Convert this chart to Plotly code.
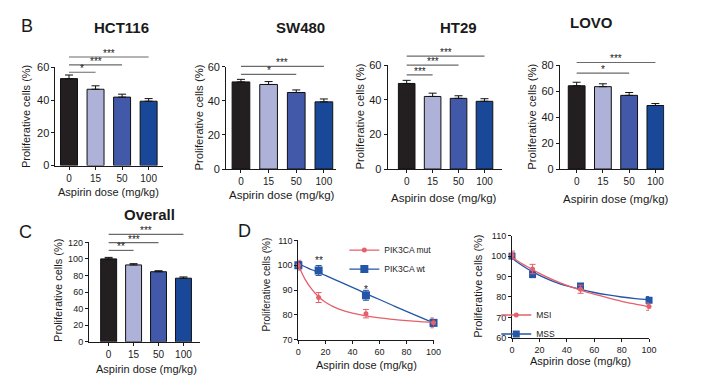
import plotly.graph_objects as go

W, H = 711, 384

# ---------------- data ----------------
doses = ["0", "15", "50", "100"]

hct116_vals = [53.1, 46.6, 41.8, 39.3]
hct116_err = [2.2, 2.1, 1.8, 1.6]
sw480_vals = [51.1, 49.6, 44.9, 39.4]
sw480_err = [1.5, 1.7, 1.5, 1.7]
ht29_vals = [49.4, 41.9, 40.8, 39.1]
ht29_err = [1.8, 1.9, 1.5, 1.5]
lovo_vals = [64.1, 63.4, 56.7, 48.9]
lovo_err = [2.7, 2.2, 2.2, 1.5]
overall_vals = [100.1, 92.8, 84.6, 76.8]
overall_err = [1.8, 1.5, 1.2, 1.5]

# significance comparisons (bar i vs bar j, label)
hct116_sig = [(0, 1, "*"), (0, 2, "***"), (0, 3, "***")]
sw480_sig = [(0, 2, "*"), (0, 3, "***")]
ht29_sig = [(0, 1, "***"), (0, 2, "***"), (0, 3, "***")]
lovo_sig = [(0, 2, "*"), (0, 3, "***")]
overall_sig = [(0, 1, "**"), (0, 2, "***"), (0, 3, "***")]

d_doses = [0, 15, 50, 100]
mut_vals = [100.0, 87.0, 80.5, 76.8]
mut_err = [2.0, 2.0, 1.7, 2.0]
wt_vals = [100.0, 97.9, 87.9, 76.8]
wt_err = [1.5, 2.0, 2.0, 1.5]
pik_sig = [(15, "**"), (50, "*")]

fit_x = [0, 5, 10, 15, 20, 30, 40, 50, 60, 70, 80, 90, 100]
mut_fit = [100.0, 94.3, 90.3, 87.3, 85.1, 82.3, 80.7, 79.6, 78.8, 78.2, 77.7, 77.3, 77.0]
wt_fit = [100.6, 99.4, 98.2, 97.1, 95.9, 93.5, 91.1, 88.6, 86.2, 83.8, 81.4, 79.1, 76.8]

msi_vals = [100.5, 93.7, 83.8, 75.3]
msi_err = [2.0, 2.3, 2.0, 1.8]
mss_vals = [100.0, 91.0, 85.4, 78.4]
mss_err = [1.5, 1.5, 1.2, 1.8]
msi_fit = [99.6, 97.3, 95.3, 93.4, 91.6, 88.4, 85.7, 83.4, 81.4, 79.6, 77.9, 76.5, 75.2]
mss_fit = [99.0, 96.5, 94.3, 92.4, 90.6, 87.7, 85.4, 83.7, 82.2, 81.0, 80.0, 79.2, 78.6]

# ---------------- styles ----------------
FONT = "Arial, Liberation Sans, sans-serif"
INK = "#1a1a1a"
bar_colors = ["#231f20", "#aeb1d8", "#4159a8", "#1a4898"]
RED = "#e5606a"
BLUE = "#2356a6"
BRACKET = "#6a6a6a"


def xd(a, b):
    return [a / W, b / W]


def yd(bottom, top):
    return [1 - bottom / H, 1 - top / H]


fig = go.Figure()

bar_panels = [
    ("", hct116_vals, hct116_err, hct116_sig, (53.3, 163), (164.7, 63.3), [-0.51, 3.56], 60, 20, [57.0, 61.5, 66.3], 11, 10),
    ("2", sw480_vals, sw480_err, sw480_sig, (226.7, 338), (168.3, 62.7), [-0.534, 3.43], 60, 20, [55.5, 60.2], 11, 10),
    ("3", ht29_vals, ht29_err, ht29_sig, (390.7, 506.7), (168.3, 61), [-0.734, 3.67], 60, 20, [54.4, 60.0, 65.2], 11, 10),
    ("4", lovo_vals, lovo_err, lovo_sig, (565.7, 671.7), (168.3, 61), [-0.637, 3.34], 80, 20, [73.8, 82.0], 11, 10),
    ("5", overall_vals, overall_err, overall_sig, (87.3, 200), (346.7, 244), [-0.79, 3.66], 120, 20, [110.3, 119.6, 129.7], 9, 10),
]

axis_common = dict(showline=True, linecolor=INK, linewidth=1, ticks="outside", ticklen=3,
                   tickwidth=1, tickcolor=INK, showgrid=False, zeroline=False, fixedrange=True)

shapes = []
annotations = []

for suf, vals, err, sig, xdom, ydom, xr, ymax, dt, heights, yfs, xfs in bar_panels:
    xa = "x" + suf
    ya = "y" + suf
    pos = list(range(len(doses)))
    fig.add_trace(go.Bar(
        x=pos, y=vals, width=0.64,
        marker=dict(color=bar_colors, line=dict(color="#111111", width=1)),
        error_y=dict(type="data", array=err, arrayminus=[0] * len(err), symmetric=False,
                     color="#111111", thickness=1, width=4),
        xaxis=xa, yaxis=ya, showlegend=False, hoverinfo="skip"))
    fig.layout["xaxis" + suf] = dict(axis_common, domain=xd(*xdom), range=xr, anchor=ya,
                                     tickvals=pos, ticktext=doses, tickfont=dict(size=xfs))
    fig.layout["yaxis" + suf] = dict(axis_common, domain=yd(*ydom), range=[0, ymax], anchor=xa,
                                     tickvals=list(range(0, ymax + 1, dt)), tickfont=dict(size=yfs))
    for (i, j, lab), h in zip(sig, heights):
        shapes.append(dict(type="line", xref=xa, yref=ya + " domain", x0=i, x1=j,
                           y0=h / ymax, y1=h / ymax, line=dict(color=BRACKET, width=1.2)))
        annotations.append(dict(xref=xa, yref=ya + " domain", x=(i + j) / 2, y=h / ymax,
                                text=lab, showarrow=False, yanchor="bottom", yshift=-4,
                                font=dict(size=10, color=INK)))

# ---------------- panel D ----------------
line_panels = [
    ("6", (300, 437.3), (344.5, 242), [70, 110], 10),
    ("7", (517, 656.2), (342.5, 237.2), [60, 110], 10),
]
for suf, xdom, ydom, yr, dt in line_panels:
    fig.layout["xaxis" + suf] = dict(axis_common, domain=xd(*xdom), range=[0, 100], anchor="y" + suf,
                                     tickvals=list(range(0, 101, 20)), tickfont=dict(size=9))
    fig.layout["yaxis" + suf] = dict(axis_common, domain=yd(*ydom), range=yr, anchor="x" + suf,
                                     tickvals=list(range(yr[0], yr[1] + 1, dt)), tickfont=dict(size=9))


def add_series(suf, fit, vals, err, color, symbol, msize, name, legend):
    fig.add_trace(go.Scatter(x=fit_x, y=fit, mode="lines", line=dict(color=color, width=1.3, shape="spline"),
                             xaxis="x" + suf, yaxis="y" + suf, showlegend=False, hoverinfo="skip"))
    fig.add_trace(go.Scatter(x=d_doses, y=vals, mode="markers",
                             marker=dict(symbol=symbol, size=msize, color=color),
                             error_y=dict(type="data", array=err, color=color, thickness=1, width=3),
                             cliponaxis=False, xaxis="x" + suf, yaxis="y" + suf, showlegend=False))
    fig.add_trace(go.Scatter(x=[None], y=[None], mode="lines+markers", name=name,
                             line=dict(color=color, width=1.3), marker=dict(symbol=symbol, size=msize, color=color),
                             xaxis="x" + suf, yaxis="y" + suf, legend=legend, showlegend=True))


add_series("6", wt_fit, wt_vals, wt_err, BLUE, "square", 8, "PIK3CA wt", "legend")
add_series("6", mut_fit, mut_vals, mut_err, RED, "circle", 5, "PIK3CA mut", "legend")
add_series("7", mss_fit, mss_vals, mss_err, BLUE, "square", 7, "MSS", "legend2")
add_series("7", msi_fit, msi_vals, msi_err, RED, "circle", 5, "MSI", "legend2")

for xv, lab in pik_sig:
    annotations.append(dict(xref="x6", yref="y6", x=xv, y=102.7 if lab == "**" else 90.9, text=lab,
                            showarrow=False, yanchor="middle", yshift=-2, font=dict(size=10, color=INK)))

# ---------------- text ----------------
def txt(x, y, s, size, bold=False, angle=0):
    annotations.append(dict(xref="paper", yref="paper", x=x / W, y=1 - y / H, text=("<b>%s</b>" % s) if bold else s,
                            showarrow=False, xanchor="center", yanchor="middle", textangle=angle,
                            font=dict(size=size, color=INK, family=FONT)))


txt(24, 21, "B", 18)
txt(23.3, 233.3, "C", 18)
txt(245, 232, "D", 18)

txt(120, 22.7, "HCT116", 15, bold=True)
txt(301.7, 22.7, "SW480", 15, bold=True)
txt(463, 22.7, "HT29", 15, bold=True)
txt(597.7, 16.7, "LOVO", 15, bold=True)
txt(149.3, 215.7, "Overall", 15, bold=True)

XT = "Aspirin dose (mg/kg)"
txt(107, 191.7, XT, 11)
txt(283, 195, XT, 11.5)
txt(448, 198.3, XT, 11.5)
txt(622.5, 199.3, XT, 11.5)
txt(145.5, 375, XT, 11)
txt(369, 371, XT, 11)
txt(586.7, 366.7, XT, 11)

YT = "Proliferative cells (%)"
txt(24, 114, YT, 11, angle=-90)
txt(199.3, 115, YT, 11.3, angle=-90)
txt(362.7, 114, YT, 11.3, angle=-90)
txt(537.7, 114, YT, 11.3, angle=-90)
txt(56, 294, YT, 11, angle=-90)
txt(266.7, 288, YT, 10, angle=-90)
txt(482.3, 289, YT, 11, angle=-90)

fig.update_layout(
    width=W, height=H, margin=dict(l=0, r=0, t=0, b=0),
    paper_bgcolor="white", plot_bgcolor="white",
    font=dict(family=FONT, color=INK),
    shapes=shapes, annotations=annotations,
    legend=dict(x=(386.7 - 40) / W, y=1 - 237 / H, xanchor="left", yanchor="top",
                bgcolor="rgba(0,0,0,0)", font=dict(size=8.5), itemwidth=30, traceorder="reversed"),
    legend2=dict(x=(541 - 40) / W, y=1 - 304 / H, xanchor="left", yanchor="top",
                 bgcolor="rgba(0,0,0,0)", font=dict(size=8.5), itemwidth=30, traceorder="reversed"),
    bargap=0,
)

fig.write_html("out.html", config={"displayModeBar": False, "staticPlot": True},
               post_script="document.body.style.margin='0';document.body.style.overflow='hidden';")
